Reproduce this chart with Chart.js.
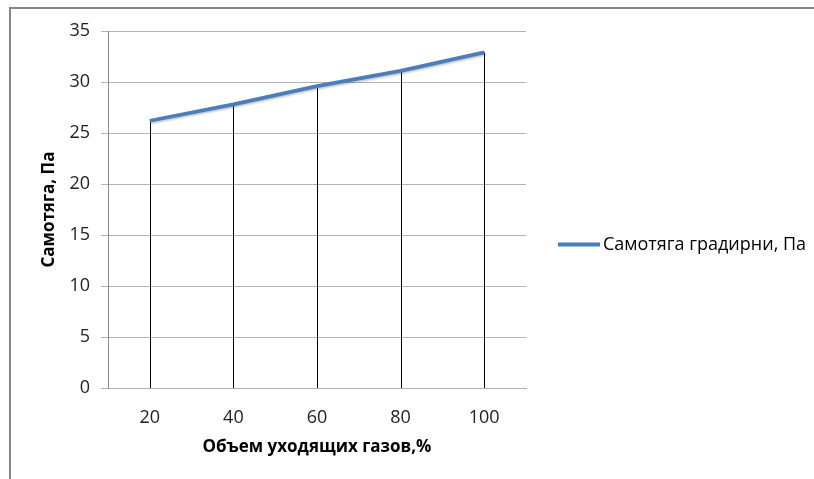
<!DOCTYPE html>
<html><head><meta charset="utf-8">
<script src="https://cdn.jsdelivr.net/npm/chart.js@4"></script>
<style>html,body{margin:0;padding:0;background:#fff;overflow:hidden}</style>
</head><body>
<canvas id="c" width="814" height="479"></canvas>
<script>
const categories = ['20', '40', '60', '80', '100'];
const seriesValues = [26.2, 27.8, 29.6, 31.1, 32.9];
const seriesName = 'Самотяга градирни, Па';
const xTitle = 'Объем уходящих газов,%';
const yTitle = 'Самотяга, Па';
const yMin = 0, yMax = 35, yStep = 5;

const FONT = '"Open Sans", "Noto Sans", sans-serif';

const framePlugin = {
  id: 'frame',
  beforeDraw(chart) {
    const ctx = chart.ctx;
    ctx.save();
    ctx.fillStyle = '#fff';
    ctx.fillRect(0, 0, chart.width, chart.height);
    ctx.strokeStyle = '#868686';
    ctx.lineWidth = 2;
    ctx.strokeRect(10, 8, chart.width + 20, chart.height + 20);
    ctx.restore();
  }
};

const dropLines = {
  id: 'dropLines',
  beforeDatasetsDraw(chart) {
    const ctx = chart.ctx;
    const y0 = chart.scales.y.getPixelForValue(0);
    ctx.save();
    ctx.strokeStyle = '#000';
    ctx.lineWidth = 1;
    chart.getDatasetMeta(0).data.forEach(pt => {
      const x = Math.round(pt.x) + 0.5;
      ctx.beginPath();
      ctx.moveTo(x, pt.y);
      ctx.lineTo(x, y0);
      ctx.stroke();
    });
    ctx.restore();
  }
};

const shadowPlugin = {
  id: 'lineShadow',
  beforeDatasetDraw(chart) {
    const ctx = chart.ctx;
    ctx.save();
    ctx.shadowColor = 'rgba(0,0,0,0.22)';
    ctx.shadowBlur = 2;
    ctx.shadowOffsetX = 1;
    ctx.shadowOffsetY = 1.5;
  },
  afterDatasetDraw(chart) {
    chart.ctx.restore();
  }
};

const legendPlugin = {
  id: 'customLegend',
  afterDraw(chart) {
    const ctx = chart.ctx;
    const ds = chart.data.datasets[0];
    const a = chart.chartArea;
    const x0 = a.right + 32;
    const y = (a.top + a.bottom) / 2 + 35;
    ctx.save();
    ctx.strokeStyle = ds.borderColor;
    ctx.lineWidth = ds.borderWidth;
    ctx.beginPath();
    ctx.moveTo(x0, y);
    ctx.lineTo(x0 + 42, y);
    ctx.stroke();
    ctx.fillStyle = '#000';
    ctx.font = '18px ' + FONT;
    ctx.textBaseline = 'middle';
    ctx.textAlign = 'left';
    ctx.fillText(ds.label, x0 + 45, y);
    ctx.restore();
  }
};

new Chart(document.getElementById('c'), {
  type: 'line',
  data: {
    labels: categories,
    datasets: [{
      label: seriesName,
      data: seriesValues,
      borderColor: '#4A7EBB',
      backgroundColor: '#4A7EBB',
      borderWidth: 3.8,
      pointRadius: 0,
      pointHoverRadius: 0,
      tension: 0,
      fill: false
    }]
  },
  options: {
    responsive: false,
    animation: false,
    events: [],
    layout: { padding: { left: 0, right: 288, top: 31, bottom: 0 } },
    plugins: { legend: { display: false }, tooltip: { enabled: false } },
    scales: {
      x: {
        type: 'category',
        offset: true,
        grid: { display: false },
        border: { display: true, color: '#b3b3b3', width: 1 },
        ticks: { color: '#222', font: { family: FONT, size: 18 }, padding: 11 },
        title: { display: true, text: xTitle, color: '#000', font: { family: FONT, size: 17, weight: 'bold' }, padding: { top: 0, bottom: 22 } },
        afterFit(s) { s.height = 91; }
      },
      y: {
        min: yMin, max: yMax,
        ticks: { stepSize: yStep, color: '#222', font: { family: FONT, size: 18 }, padding: 11 },
        grid: { color: '#b3b3b3', tickLength: 7, lineWidth: 1 },
        border: { display: true, color: '#888', width: 1 },
        title: { display: true, text: yTitle, color: '#000', font: { family: FONT, size: 17, weight: 'bold' }, padding: { top: 39, bottom: 0 } },
        afterFit(s) { s.width = 108; }
      }
    }
  },
  plugins: [framePlugin, dropLines, shadowPlugin, legendPlugin]
});
</script>
</body></html>
